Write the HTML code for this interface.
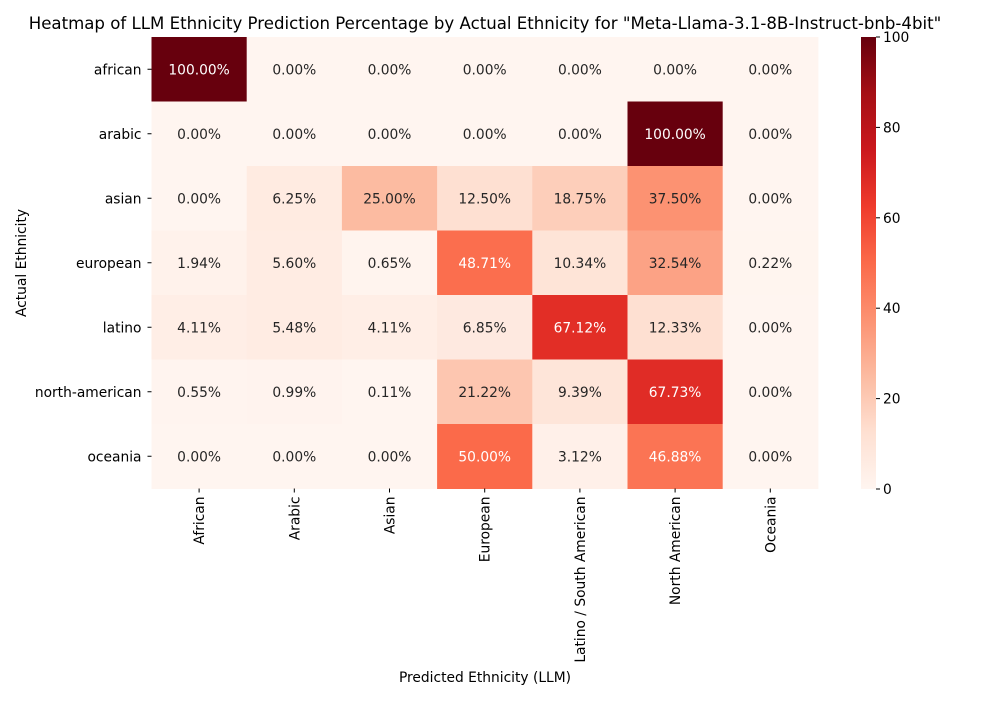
<!DOCTYPE html>
<html><head><meta charset="utf-8"><style>
body{margin:0;background:#fff;}
svg text{font-family:"DejaVu Sans","Liberation Sans",sans-serif;}
</style></head><body>
<svg id="chart" width="1000" height="700" xmlns="http://www.w3.org/2000/svg">
<text x="485" y="29" font-size="16.6" text-anchor="middle">Heatmap of LLM Ethnicity Prediction Percentage by Actual Ethnicity for "Meta-Llama-3.1-8B-Instruct-bnb-4bit"</text>
<text x="485" y="682" font-size="13.8" text-anchor="middle">Predicted Ethnicity (LLM)</text>
<text x="26" y="263" font-size="13.8" text-anchor="middle" transform="rotate(-90 26 263)">Actual Ethnicity</text>
<g id="cells"></g>
<g id="cbar"></g>
</svg>
<script>
const rowLabels=["african","arabic","asian","european","latino","north-american","oceania"];
const colLabels=["African","Arabic","Asian","European","Latino / South American","North American","Oceania"];
const values=[
[100,0,0,0,0,0,0],
[0,0,0,0,0,100,0],
[0,6.25,25,12.5,18.75,37.5,0],
[1.94,5.60,0.65,48.71,10.34,32.54,0.22],
[4.11,5.48,4.11,6.85,67.12,12.33,0],
[0.55,0.99,0.11,21.22,9.39,67.73,0],
[0,0,0,50,3.12,46.88,0]
];
const cbarTicks=[0,20,40,60,80,100];
const NS="http://www.w3.org/2000/svg";
const X0=151.5,Y0=37,CW=95.2,RH=64.5,VMIN=0,VMAX=100,FS=13.8;
const stops=["#fff5f0","#fee0d2","#fcbba1","#fc9272","#fb6a4a","#ef3b2c","#cb181d","#a50f15","#67000d"];
function hex(h){return [1,3,5].map(i=>parseInt(h.substr(i,2),16));}
function color(v){let t=Math.max(0,Math.min(1,(v-VMIN)/(VMAX-VMIN)))*(stops.length-1);let i=Math.min(Math.floor(t),stops.length-2),f=t-i;let a=hex(stops[i]),b=hex(stops[i+1]);return "rgb("+a.map((c,k)=>Math.round(c+(b[k]-c)*f)).join(",")+")";}
function xs(j){return X0+j*CW;}
function ys(i){return Y0+i*RH;}
function mk(tag,attrs,parent){const e=document.createElementNS(NS,tag);for(const k in attrs)e.setAttribute(k,attrs[k]);parent.appendChild(e);return e;}
const g=document.getElementById("cells");
values.forEach((row,i)=>{row.forEach((v,j)=>{
 const r=mk("rect",{x:xs(j),y:ys(i),width:CW+0.5,height:RH+0.5,fill:color(v)},g);
 
 
 const t=mk("text",{x:xs(j)+CW/2,y:ys(i)+RH/2+5,"font-size":FS,"text-anchor":"middle",fill:v>40?"#fff":"#262626"},g);
 t.textContent=v.toFixed(2)+"%";
 
 
});});
rowLabels.forEach((l,i)=>{
 const y=ys(i)+RH/2;
 mk("line",{x1:X0-4,x2:X0,y1:y,y2:y,stroke:"#000"},g);
 const t=mk("text",{x:X0-10,y:y+5,"font-size":FS,"text-anchor":"end"},g);
 t.textContent=l;
 
 
});
const yb=Y0+7*RH;
colLabels.forEach((l,j)=>{
 const x=xs(j)+CW/2;
 mk("line",{x1:x,x2:x,y1:yb,y2:yb+4,stroke:"#000"},g);
 const t=mk("text",{x:x+5,y:yb+8,"font-size":FS,"text-anchor":"end",transform:`rotate(-90 ${x+5} ${yb+8})`},g);
 t.textContent=l;
 
 
});
const cb=document.getElementById("cbar");
const CX=861,CWd=15,CT=37,CB=489;
const defs=mk("defs",{},cb);
const grad=mk("linearGradient",{id:"rg",x1:0,y1:1,x2:0,y2:0},defs);
stops.forEach((s,k)=>mk("stop",{offset:k/(stops.length-1),"stop-color":s},grad));
const cr=mk("rect",{x:CX,y:CT,width:CWd,height:CB-CT,fill:"url(#rg)"},cb);


cbarTicks.forEach(v=>{
 const y=CB-(v-VMIN)/(VMAX-VMIN)*(CB-CT);
 mk("line",{x1:CX+CWd,x2:CX+CWd+4,y1:y,y2:y,stroke:"#000"},cb);
 const t=mk("text",{x:CX+CWd+7,y:y+5,"font-size":FS},cb);
 t.textContent=v;
 
 
});
</script>
</body></html>
